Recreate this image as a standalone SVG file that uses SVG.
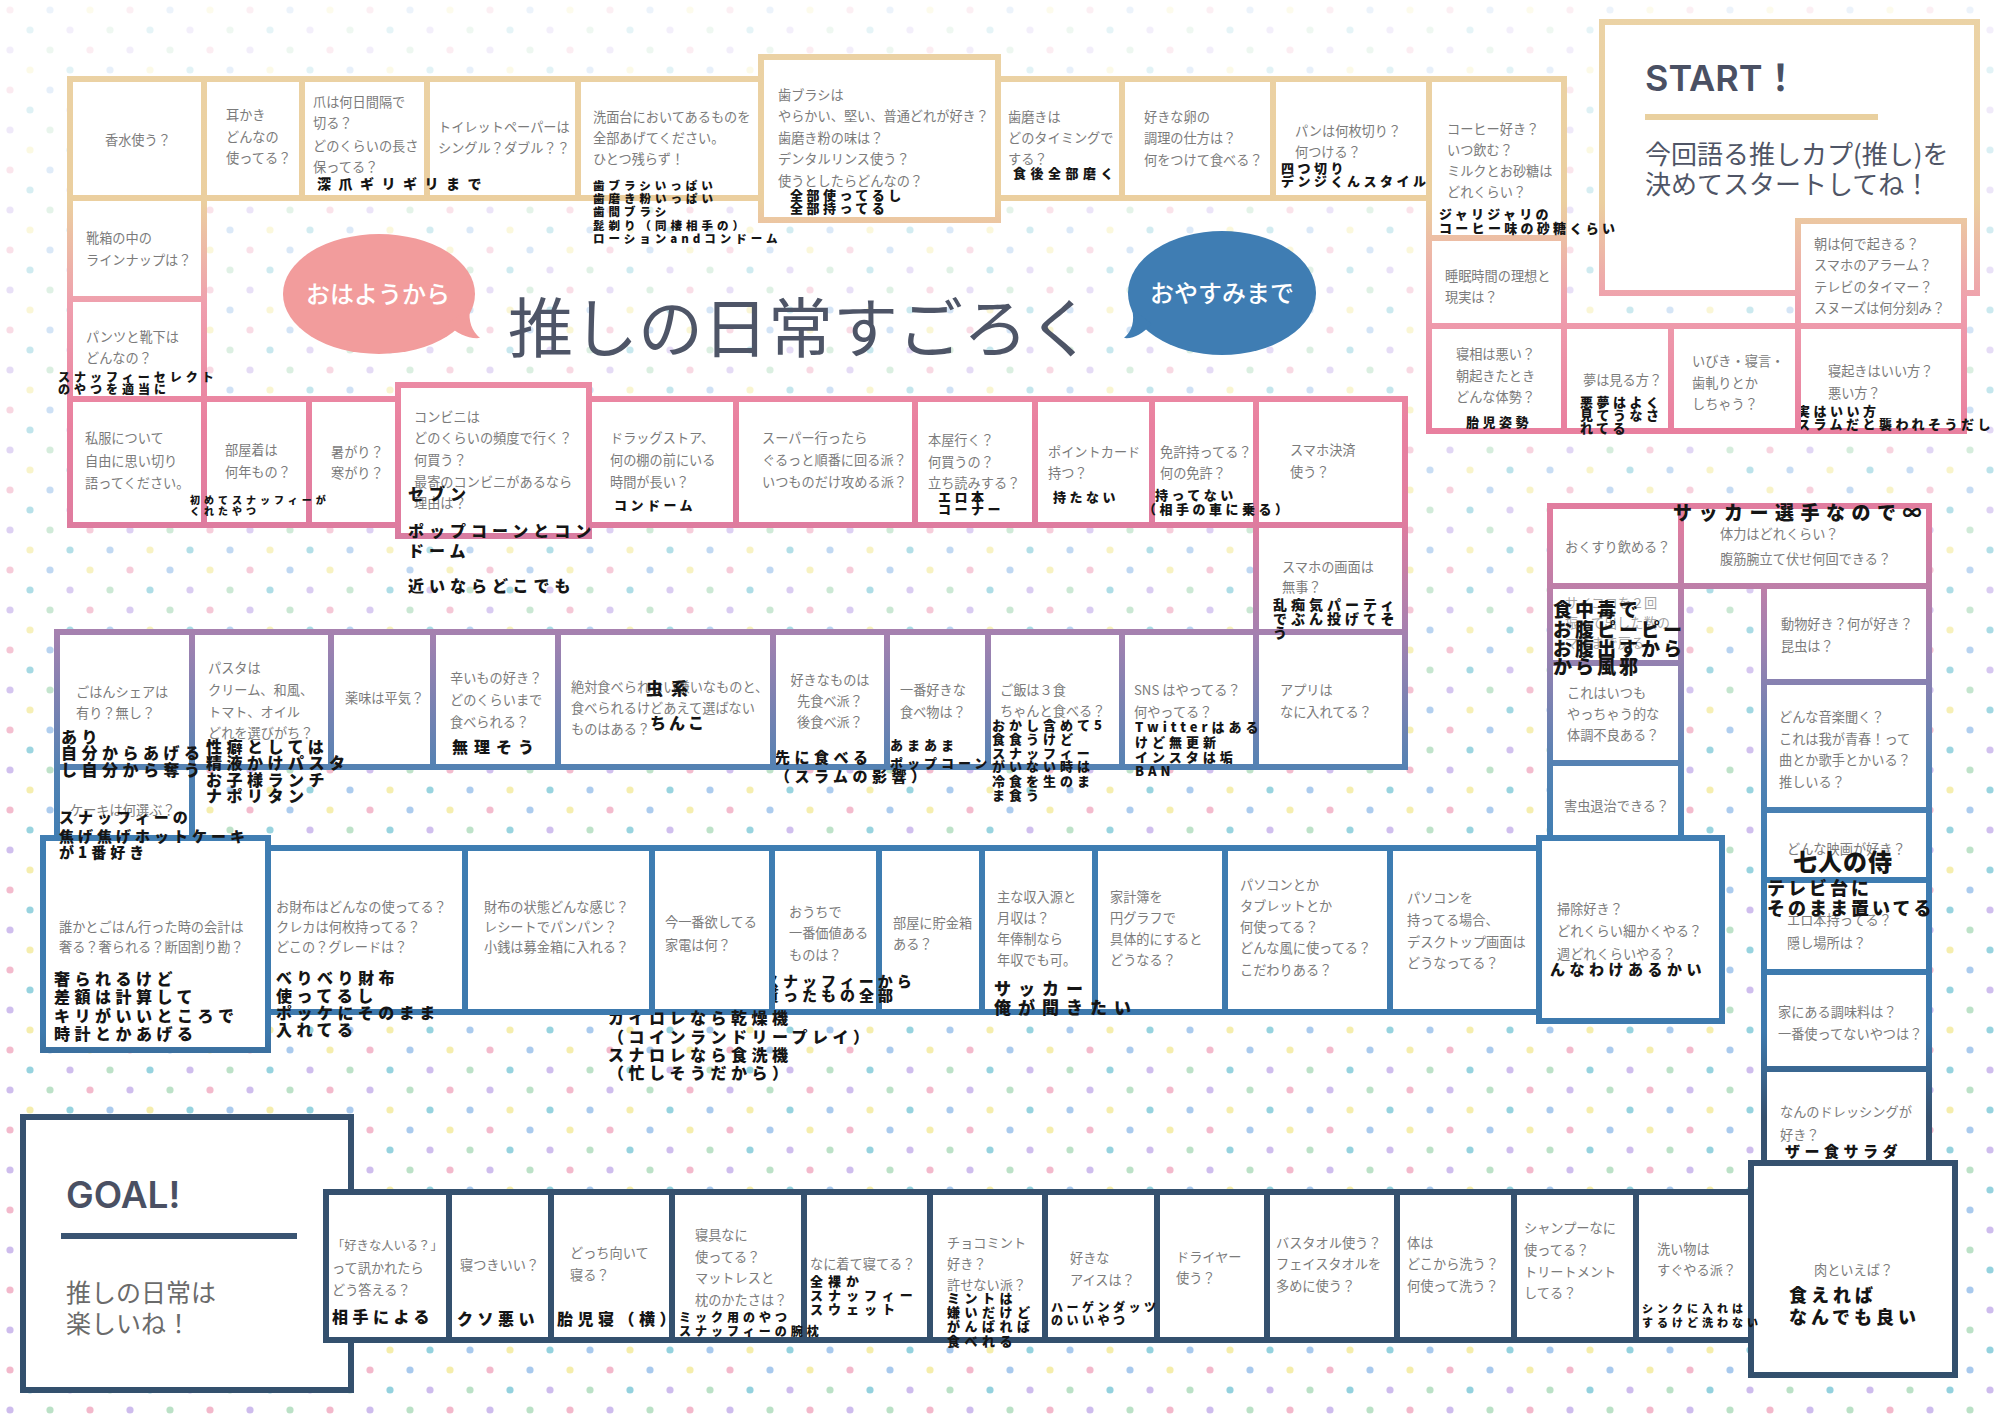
<svg xmlns="http://www.w3.org/2000/svg" width="2000" height="1414" viewBox="0 0 2000 1414">
<defs>
<linearGradient id="bd" gradientUnits="userSpaceOnUse" x1="0" y1="0" x2="0" y2="1414">
<stop offset="0" stop-color="#ebd3a6"/>
<stop offset="0.143" stop-color="#ebcf9f"/>
<stop offset="0.215" stop-color="#ef9fae"/>
<stop offset="0.30" stop-color="#e9809f"/>
<stop offset="0.37" stop-color="#df7c9f"/>
<stop offset="0.45" stop-color="#a381b0"/>
<stop offset="0.545" stop-color="#5282b3"/>
<stop offset="0.60" stop-color="#3e7db2"/>
<stop offset="0.73" stop-color="#3d79ad"/>
<stop offset="0.79" stop-color="#36516f"/>
<stop offset="1" stop-color="#33506d"/>
</linearGradient>
<linearGradient id="fade" x1="0" y1="0" x2="0" y2="1">
<stop offset="0" stop-color="#fff" stop-opacity="0.8"/>
<stop offset="0.3" stop-color="#fff" stop-opacity="0.45"/>
<stop offset="0.55" stop-color="#fff" stop-opacity="0.1"/>
<stop offset="1" stop-color="#fff" stop-opacity="0.05"/>
</linearGradient>
<pattern id="dots" width="120" height="80" patternUnits="userSpaceOnUse">
<circle cx="10" cy="10" r="3.6" fill="#f2b4c8"/>
<circle cx="50" cy="10" r="3.6" fill="#a3c6ec"/>
<circle cx="90" cy="10" r="3.6" fill="#f4eca6"/>
<circle cx="30" cy="30" r="3.6" fill="#8ecfdc"/>
<circle cx="70" cy="30" r="3.6" fill="#cbb8ec"/>
<circle cx="110" cy="30" r="3.6" fill="#b7dfc3"/>
<circle cx="10" cy="50" r="3.6" fill="#cbb8ec"/>
<circle cx="50" cy="50" r="3.6" fill="#b7dfc3"/>
<circle cx="90" cy="50" r="3.6" fill="#f2b4c8"/>
<circle cx="30" cy="70" r="3.6" fill="#f4eca6"/>
<circle cx="70" cy="70" r="3.6" fill="#8ecfdc"/>
<circle cx="110" cy="70" r="3.6" fill="#a3c6ec"/>
</pattern>
<style>
.box{fill:#fff;stroke:url(#bd);stroke-width:6}
.q{font-family:"Noto Sans CJK JP","Noto Sans",sans-serif;font-size:13.2px;fill:#7b7b7b}
.a{font-family:"Noto Sans CJK JP","Noto Sans",sans-serif;font-weight:900;fill:#151515}
.s10{font-size:10px;letter-spacing:4px}
.s11{font-size:11.5px;letter-spacing:4px}
.s12{font-size:12px;letter-spacing:4px}
.s13{font-size:13px;letter-spacing:3.5px}
.s15{font-size:15px;letter-spacing:4.5px}
.s16{font-size:16px;letter-spacing:4.5px}
.s17{font-size:17px;letter-spacing:7px}
.s19{font-size:19px;letter-spacing:3px}
.head{font-family:"Inter","Open Sans","Noto Sans CJK JP",sans-serif;font-weight:600;fill:#4a5063}
.sub{font-family:"Noto Sans CJK JP",sans-serif}
.bub{font-family:"Noto Sans CJK JP",sans-serif;font-size:24px;font-weight:500;fill:#fff;text-anchor:middle}
</style>
</defs>

<rect width="2000" height="1414" fill="#fff"/>
<rect width="2000" height="1414" fill="url(#dots)"/>
<rect width="2000" height="1414" fill="url(#fade)"/>

<g id="title">
<text x="508" y="352" font-family="Noto Sans CJK JP, sans-serif" font-size="65" fill="#4e5567">推しの日常すごろく</text>
</g>
<g id="bubble-ohayo">
<ellipse cx="379" cy="294" rx="96" ry="60" fill="#f29c9c"/>
<path d="M446,324 C458,334 468,339 480,338 C472,331 468,321 470,309 Z" fill="#f29c9c"/>
<text class="bub" x="378" y="303">おはようから</text>
</g>
<g id="bubble-oyasumi">
<ellipse cx="1222" cy="293" rx="94" ry="62" fill="#3f7db3"/>
<path d="M1152,324 C1142,334 1134,339 1124,338 C1132,331 1135,321 1132,309 Z" fill="#3f7db3"/>
<text class="bub" x="1222" y="302">おやすみまで</text>
</g>

<g id="connectors"></g>

<!-- GOAL and bottom row -->
<g id="goal">
<rect class="box" x="23" y="1117" width="328" height="273"/>
<text class="head" x="66" y="1208" font-size="37">GOAL!</text>
<line x1="61" y1="1236" x2="297" y2="1236" stroke="#3a5472" stroke-width="6"/>
<text class="sub" font-size="25" fill="#6b6b6b"><tspan x="66" y="1302">推しの日常は</tspan><tspan x="66" y="1333">楽しいね！</tspan></text>
</g>
<g id="n-niku">
<rect class="box" x="1751" y="1163" width="204" height="212"/>
<text class="q" x="1814" y="1275">肉といえば？</text>
<text class="a" font-size="18" letter-spacing="4"><tspan x="1789" y="1302">食えれば</tspan><tspan x="1789" y="1324">なんでも良い</tspan></text>
</g>
<g id="n-araimono">
<rect class="box" x="1636" y="1192" width="115" height="148"/>
<text class="q"><tspan x="1657" y="1254">洗い物は</tspan><tspan x="1657" y="1275">すぐやる派？</tspan></text>
<text class="a" font-size="11" letter-spacing="4"><tspan x="1642" y="1313">シンクに入れは</tspan><tspan x="1642" y="1327">するけど洗わない</tspan></text>
</g>
<g id="n-shampoo">
<rect class="box" x="1514" y="1192" width="122" height="148"/>
<text class="q"><tspan x="1524" y="1233">シャンプーなに</tspan><tspan x="1524" y="1255">使ってる？</tspan><tspan x="1524" y="1277">トリートメント</tspan><tspan x="1524" y="1298">してる？</tspan></text>
</g>
<g id="n-karada">
<rect class="box" x="1397" y="1192" width="117" height="148"/>
<text class="q"><tspan x="1407" y="1248">体は</tspan><tspan x="1407" y="1269">どこから洗う？</tspan><tspan x="1407" y="1291">何使って洗う？</tspan></text>
</g>
<g id="n-bathtowel">
<rect class="box" x="1267" y="1192" width="130" height="148"/>
<text class="q"><tspan x="1276" y="1248">バスタオル使う？</tspan><tspan x="1276" y="1269">フェイスタオルを</tspan><tspan x="1276" y="1291">多めに使う？</tspan></text>
</g>
<g id="n-dryer">
<rect class="box" x="1157" y="1192" width="110" height="148"/>
<text class="q"><tspan x="1176" y="1262">ドライヤー</tspan><tspan x="1176" y="1283">使う？</tspan></text>
</g>
<g id="n-ice">
<rect class="box" x="1045" y="1192" width="112" height="148"/>
<text class="q"><tspan x="1070" y="1263">好きな</tspan><tspan x="1070" y="1285">アイスは？</tspan></text>
<text class="a" font-size="12" letter-spacing="3.5"><tspan x="1051" y="1312">ハーゲンダッツ</tspan><tspan x="1051" y="1325">のいいやつ</tspan></text>
</g>
<g id="n-chocomint">
<rect class="box" x="930" y="1192" width="115" height="148"/>
<text class="q"><tspan x="947" y="1248">チョコミント</tspan><tspan x="947" y="1269">好き？</tspan><tspan x="947" y="1290">許せない派？</tspan></text>
<text class="a" font-size="13" letter-spacing="4.5"><tspan x="947" y="1303">ミントは</tspan><tspan x="947" y="1317">嫌いだけど</tspan><tspan x="947" y="1331">がんばれば</tspan><tspan x="947" y="1346">食べれる</tspan></text>
</g>
<g id="n-pajama">
<rect class="box" x="804" y="1192" width="126" height="148"/>
<text class="q" x="810" y="1269">なに着て寝てる？</text>
<text class="a" font-size="13" letter-spacing="5"><tspan x="810" y="1286">全裸か</tspan><tspan x="810" y="1300">スナッフィー</tspan><tspan x="810" y="1314">スウェット</tspan></text>
</g>
<g id="n-shingu">
<rect class="box" x="672" y="1192" width="132" height="148"/>
<text class="q"><tspan x="695" y="1240">寝具なに</tspan><tspan x="695" y="1262">使ってる？</tspan><tspan x="695" y="1283">マットレスと</tspan><tspan x="695" y="1305">枕のかたさは？</tspan></text>
<text class="a" font-size="12" letter-spacing="4"><tspan x="679" y="1322">ミック用のやつ</tspan><tspan x="679" y="1336">スナッフィーの腕枕</tspan></text>
</g>
<g id="n-docchi">
<rect class="box" x="551" y="1192" width="121" height="148"/>
<text class="q"><tspan x="570" y="1258">どっち向いて</tspan><tspan x="570" y="1280">寝る？</tspan></text>
<text class="a s16" x="557" y="1325">胎児寝（横）</text>
</g>
<g id="n-netsuki">
<rect class="box" x="449" y="1192" width="102" height="148"/>
<text class="q" x="460" y="1270">寝つきいい？</text>
<text class="a s16" x="457" y="1325">クソ悪い</text>
</g>
<g id="n-sukinahito">
<rect class="box" x="326" y="1192" width="123" height="148"/>
<text class="q"><tspan x="332" y="1250" font-size="12.3">「好きな人いる？」</tspan><tspan x="332" y="1273">って訊かれたら</tspan><tspan x="332" y="1295">どう答える？</tspan></text>
<text class="a s16" x="332" y="1323">相手による</text>
</g>

<!-- row 4 -->
<g id="n-souji">
<rect class="box" x="1539" y="838" width="183" height="183"/>
<text class="q"><tspan x="1557" y="914">掃除好き？</tspan><tspan x="1557" y="936">どれくらい細かくやる？</tspan><tspan x="1557" y="959">週どれくらいやる？</tspan></text>
<text class="a s15" x="1550" y="975">んなわけあるかい</text>
</g>
<g id="n-pc2">
<rect class="box" x="1390" y="848" width="149" height="164"/>
<text class="q"><tspan x="1407" y="903">パソコンを</tspan><tspan x="1407" y="925">持ってる場合、</tspan><tspan x="1407" y="947">デスクトップ画面は</tspan><tspan x="1407" y="968">どうなってる？</tspan></text>
</g>
<g id="n-pc1">
<rect class="box" x="1225" y="848" width="165" height="164"/>
<text class="q"><tspan x="1240" y="890">パソコンとか</tspan><tspan x="1240" y="911">タブレットとか</tspan><tspan x="1240" y="932">何使ってる？</tspan><tspan x="1240" y="953">どんな風に使ってる？</tspan><tspan x="1240" y="975">こだわりある？</tspan></text>
</g>
<g id="n-kakeibo">
<rect class="box" x="1095" y="848" width="130" height="164"/>
<text class="q"><tspan x="1110" y="902">家計簿を</tspan><tspan x="1110" y="923">円グラフで</tspan><tspan x="1110" y="944">具体的にすると</tspan><tspan x="1110" y="965">どうなる？</tspan></text>
</g>
<g id="n-shunyu">
<rect class="box" x="982" y="848" width="113" height="164"/>
<text class="q"><tspan x="997" y="902">主な収入源と</tspan><tspan x="997" y="923">月収は？</tspan><tspan x="997" y="944">年俸制なら</tspan><tspan x="997" y="965">年収でも可。</tspan></text>
<text class="a s17"><tspan x="994" y="995">サッカー</tspan><tspan x="994" y="1014">俺が聞きたい</tspan></text>
</g>
<g id="n-chokinbako">
<rect class="box" x="879" y="848" width="103" height="164"/>
<text class="q"><tspan x="893" y="928">部屋に貯金箱</tspan><tspan x="893" y="949">ある？</tspan></text>
</g>
<g id="n-kachi">
<rect class="box" x="772" y="848" width="107" height="164"/>
<text class="q"><tspan x="789" y="917">おうちで</tspan><tspan x="789" y="938">一番価値ある</tspan><tspan x="789" y="960">ものは？</tspan></text>
<text class="a" font-size="15" letter-spacing="4"><tspan x="764" y="987">スナッフィーから</tspan><tspan x="764" y="1001">貰ったもの全部</tspan></text>
</g>
<g id="n-kaden">
<rect class="box" x="652" y="848" width="120" height="164"/>
<text class="q"><tspan x="665" y="927">今一番欲してる</tspan><tspan x="665" y="950">家電は何？</tspan></text>
<text class="a s16"><tspan x="608" y="1024">カイロレなら乾燥機</tspan><tspan x="608" y="1043">（コインランドリープレイ）</tspan><tspan x="608" y="1061">スナロレなら食洗機</tspan><tspan x="608" y="1079">（忙しそうだから）</tspan></text>
</g>
<g id="n-saifu2">
<rect class="box" x="465" y="848" width="187" height="164"/>
<text class="q"><tspan x="484" y="912">財布の状態どんな感じ？</tspan><tspan x="484" y="932">レシートでパンパン？</tspan><tspan x="484" y="952">小銭は募金箱に入れる？</tspan></text>
</g>
<g id="n-saifu1">
<rect class="box" x="268" y="848" width="197" height="164"/>
<text class="q"><tspan x="276" y="912">お財布はどんなの使ってる？</tspan><tspan x="276" y="932">クレカは何枚持ってる？</tspan><tspan x="276" y="952">どこの？グレードは？</tspan></text>
<text class="a s16"><tspan x="276" y="984">べりべり財布</tspan><tspan x="276" y="1002">使ってるし</tspan><tspan x="276" y="1019">ポッケにそのまま</tspan><tspan x="276" y="1036">入れてる</tspan></text>
</g>
<g id="n-kaikei">
<rect class="box" x="43" y="838" width="225" height="212"/>
<text class="q"><tspan x="59" y="932">誰かとごはん行った時の会計は</tspan><tspan x="59" y="952">奢る？奢られる？断固割り勘？</tspan></text>
<text class="a s16"><tspan x="54" y="985">奢られるけど</tspan><tspan x="54" y="1003">差額は計算して</tspan><tspan x="54" y="1022">キリがいいところで</tspan><tspan x="54" y="1040">時計とかあげる</tspan></text>
</g>

<!-- right column -->
<g id="n-dressing">
<rect class="box" x="1764" y="1069" width="165" height="94"/>
<text class="q"><tspan x="1780" y="1117">なんのドレッシングが</tspan><tspan x="1780" y="1140">好き？</tspan></text>
<text class="a s15" x="1785" y="1157">ザー食サラダ</text>
</g>
<g id="n-chomiryo">
<rect class="box" x="1764" y="972" width="165" height="97"/>
<text class="q"><tspan x="1778" y="1017">家にある調味料は？</tspan><tspan x="1778" y="1039">一番使ってないやつは？</tspan></text>
</g>
<g id="n-erohon">
<rect class="box" x="1764" y="880" width="165" height="92"/>
<text class="q"><tspan x="1787" y="925">エロ本持ってる？</tspan><tspan x="1787" y="948">隠し場所は？</tspan></text>
</g>
<g id="n-eiga">
<rect class="box" x="1764" y="810" width="165" height="70"/>
<text class="q" x="1787" y="854">どんな映画が好き？</text>
<text class="a" font-size="24" letter-spacing="1" x="1793" y="871">七人の侍</text>
</g>
<g id="n-erohon-a">
<text class="a" font-size="18" letter-spacing="3"><tspan x="1767" y="895">テレビ台に</tspan><tspan x="1767" y="915">そのまま置いてる</tspan></text>
</g>
<g id="n-ongaku">
<rect class="box" x="1764" y="682" width="165" height="128"/>
<text class="q"><tspan x="1779" y="722">どんな音楽聞く？</tspan><tspan x="1779" y="744">これは我が青春！って</tspan><tspan x="1779" y="765">曲とか歌手とかいる？</tspan><tspan x="1779" y="787">推しいる？</tspan></text>
</g>
<g id="n-dobutsu">
<rect class="box" x="1764" y="586" width="165" height="96"/>
<text class="q"><tspan x="1781" y="629">動物好き？何が好き？</tspan><tspan x="1781" y="651">昆虫は？</tspan></text>
</g>
<g id="n-gaichu">
<rect class="box" x="1550" y="763" width="131" height="75"/>
<text class="q" x="1564" y="811">害虫退治できる？</text>
</g>
<g id="n-taicho">
<rect class="box" x="1550" y="663" width="131" height="100"/>
<text class="q"><tspan x="1567" y="698">これはいつも</tspan><tspan x="1567" y="719">やっちゃう的な</tspan><tspan x="1567" y="740">体調不良ある？</tspan></text>
</g>
<g id="n-saikoro">
<rect class="box" x="1550" y="586" width="131" height="77"/>
<text class="q" fill-opacity="0.7"><tspan x="1565" y="608">サイコロを２回</tspan><tspan x="1565" y="628">振って出した数の</tspan><tspan x="1565" y="648">マスまで戻る</tspan></text>
<text class="a s19"><tspan x="1553" y="617">食中毒で</tspan><tspan x="1553" y="637">お腹ピーピー</tspan><tspan x="1553" y="656">お腹出すから</tspan><tspan x="1553" y="674">から風邪</tspan></text>
</g>
<g id="n-kusuri">
<rect class="box" x="1550" y="506" width="131" height="80"/>
<text class="q" x="1565" y="552">おくすり飲める？</text>
</g>
<g id="n-tairyoku">
<rect class="box" x="1681" y="506" width="248" height="80"/>
<text class="q"><tspan x="1720" y="539">体力はどれくらい？</tspan><tspan x="1720" y="564">腹筋腕立て伏せ何回できる？</tspan></text>
<text class="a" font-size="19" letter-spacing="6.5" x="1673" y="520">サッカー選手なので∞</text>
</g>

<!-- row 3 -->
<g id="n-cake">
<rect class="box" x="57" y="767" width="135" height="71"/>
<text class="q" x="70" y="815">ケーキは何選ぶ？</text>
<text class="a" font-size="15" letter-spacing="4"><tspan x="59" y="823">スナッフィーの</tspan><tspan x="59" y="842">焦げ焦げホットケーキ</tspan><tspan x="59" y="858">が1番好き</tspan></text>
</g>
<g id="n-app">
<rect class="box" x="1256" y="632" width="149" height="135"/>
<text class="q"><tspan x="1280" y="695">アプリは</tspan><tspan x="1280" y="717">なに入れてる？</tspan></text>
</g>
<g id="n-sns">
<rect class="box" x="1122" y="632" width="134" height="135"/>
<text class="q"><tspan x="1134" y="695">SNS はやってる？</tspan><tspan x="1134" y="717">何やってる？</tspan></text>
<text class="a" font-size="13" letter-spacing="4"><tspan x="1135" y="732">Twitterはある</tspan><tspan x="1135" y="747">けど無更新</tspan><tspan x="1135" y="762">インスタは垢</tspan><tspan x="1135" y="776">BAN</tspan></text>
</g>
<g id="n-gohan3">
<rect class="box" x="988" y="632" width="134" height="135"/>
<text class="q"><tspan x="1000" y="695">ご飯は３食</tspan><tspan x="1000" y="716">ちゃんと食べる？</tspan></text>
<text class="a" font-size="13" letter-spacing="4"><tspan x="992" y="730">おかし含めて5</tspan><tspan x="992" y="744">食食うけど</tspan><tspan x="992" y="758">スナッフィー</tspan><tspan x="992" y="771">がいない時は</tspan><tspan x="992" y="786">冷食を生のま</tspan><tspan x="992" y="800">ま食う</tspan></text>
</g>
<g id="n-ichiban">
<rect class="box" x="887" y="632" width="101" height="135"/>
<text class="q"><tspan x="900" y="695">一番好きな</tspan><tspan x="900" y="717">食べ物は？</tspan></text>
<text class="a" font-size="13" letter-spacing="4"><tspan x="890" y="750">あまあま</tspan><tspan x="890" y="768">ポップコーン</tspan></text>
</g>
<g id="n-sakitabe">
<rect class="box" x="773" y="632" width="114" height="135"/>
<text class="q" text-anchor="middle"><tspan x="830" y="685">好きなものは</tspan><tspan x="830" y="706">先食べ派？</tspan><tspan x="830" y="727">後食べ派？</tspan></text>
<text class="a s15"><tspan x="775" y="763">先に食べる</tspan><tspan x="775" y="782">（スラムの影響）</tspan></text>
</g>
<g id="n-kirai">
<rect class="box" x="558" y="632" width="215" height="135"/>
<text class="q"><tspan x="571" y="692">絶対食べられない嫌いなものと、</tspan><tspan x="571" y="713">食べられるけどあえて選ばない</tspan><tspan x="571" y="734">ものはある？</tspan></text>
<text class="a" font-size="17" letter-spacing="8" x="646" y="695">虫系</text>
<text class="a" font-size="16" letter-spacing="3" x="650" y="729">ちんこ</text>
</g>
<g id="n-karai">
<rect class="box" x="433" y="632" width="125" height="135"/>
<text class="q"><tspan x="450" y="683">辛いもの好き？</tspan><tspan x="450" y="705">どのくらいまで</tspan><tspan x="450" y="727">食べられる？</tspan></text>
<text class="a" font-size="16" letter-spacing="6" x="452" y="753">無理そう</text>
</g>
<g id="n-yakumi">
<rect class="box" x="331" y="632" width="102" height="135"/>
<text class="q" x="345" y="703">薬味は平気？</text>
</g>
<g id="n-pasta">
<rect class="box" x="192" y="632" width="139" height="135"/>
<text class="q"><tspan x="208" y="673">パスタは</tspan><tspan x="208" y="695">クリーム、和風、</tspan><tspan x="208" y="717">トマト、オイル</tspan><tspan x="208" y="738">どれを選びがち？</tspan></text>
<text class="a s16"><tspan x="206" y="753">性癖としては</tspan><tspan x="206" y="769">精液かけパスタ</tspan><tspan x="206" y="786">お子様ランチ</tspan><tspan x="206" y="802">ナポリタン</tspan></text>
</g>
<g id="n-share">
<rect class="box" x="57" y="632" width="135" height="135"/>
<text class="q"><tspan x="76" y="697">ごはんシェアは</tspan><tspan x="76" y="718">有り？無し？</tspan></text>
<text class="a s16"><tspan x="61" y="743">あり</tspan><tspan x="61" y="759">自分からあげる</tspan><tspan x="61" y="776">し自分から奪う</tspan></text>
</g>

<!-- row 2 -->
<g id="n-gamen">
<rect class="box" x="1256" y="525" width="149" height="107"/>
<text class="q"><tspan x="1282" y="572">スマホの画面は</tspan><tspan x="1282" y="592">無事？</tspan></text>
<text class="a" font-size="14" letter-spacing="4"><tspan x="1273" y="610">乱痴気パーティ</tspan><tspan x="1273" y="624">でぶん投げてそ</tspan><tspan x="1273" y="638">う</tspan></text>
</g>
<g id="n-kessai">
<rect class="box" x="1256" y="399" width="149" height="126"/>
<text class="q"><tspan x="1290" y="455">スマホ決済</tspan><tspan x="1290" y="477">使う？</tspan></text>
</g>
<g id="n-point">
<rect class="box" x="1035" y="399" width="117" height="126"/>
<text class="q"><tspan x="1048" y="457">ポイントカード</tspan><tspan x="1048" y="478">持つ？</tspan></text>
<text class="a s13" x="1053" y="502">持たない</text>
</g>
<g id="n-menkyo">
<rect class="box" x="1152" y="399" width="104" height="126"/>
<text class="q"><tspan x="1160" y="457">免許持ってる？</tspan><tspan x="1160" y="478">何の免許？</tspan></text>
<text class="a s13"><tspan x="1155" y="500">持ってない</tspan><tspan x="1143" y="514">（相手の車に乗る）</tspan></text>
</g>
<g id="n-honya">
<rect class="box" x="915" y="399" width="120" height="126"/>
<text class="q"><tspan x="928" y="445">本屋行く？</tspan><tspan x="928" y="467">何買うの？</tspan><tspan x="928" y="488">立ち読みする？</tspan></text>
<text class="a s13"><tspan x="938" y="502">エロ本</tspan><tspan x="938" y="514">コーナー</tspan></text>
</g>
<g id="n-super">
<rect class="box" x="736" y="399" width="179" height="126"/>
<text class="q"><tspan x="762" y="443">スーパー行ったら</tspan><tspan x="762" y="465">ぐるっと順番に回る派？</tspan><tspan x="762" y="487">いつものだけ攻める派？</tspan></text>
</g>
<g id="n-drug">
<rect class="box" x="589" y="399" width="147" height="126"/>
<text class="q"><tspan x="610" y="443">ドラッグストア、</tspan><tspan x="610" y="465">何の棚の前にいる</tspan><tspan x="610" y="487">時間が長い？</tspan></text>
<text class="a s13" x="614" y="510">コンドーム</text>
</g>
<g id="n-konbini">
<rect class="box" x="398" y="385" width="191" height="151"/>
<text class="q"><tspan x="414" y="422">コンビニは</tspan><tspan x="414" y="443">どのくらいの頻度で行く？</tspan><tspan x="414" y="465">何買う？</tspan><tspan x="414" y="487">最寄のコンビニがあるなら</tspan><tspan x="414" y="508">理由は？</tspan></text>
<text class="a" font-size="16" letter-spacing="5"><tspan x="408" y="500">セブン</tspan><tspan x="408" y="537">ポップコーンとコン</tspan><tspan x="408" y="557">ドーム</tspan><tspan x="408" y="592">近いならどこでも</tspan></text>
</g>
<g id="n-atsugari">
<rect class="box" x="309" y="399" width="89" height="126"/>
<text class="q"><tspan x="331" y="457">暑がり？</tspan><tspan x="331" y="478">寒がり？</tspan></text>
</g>
<g id="n-shifuku">
<rect class="box" x="70" y="399" width="134" height="126"/>
<text class="q"><tspan x="85" y="443">私服について</tspan><tspan x="85" y="466">自由に思い切り</tspan><tspan x="85" y="488">語ってください。</tspan></text>
</g>
<g id="n-heyagi">
<rect class="box" x="204" y="399" width="105" height="126"/>
<text class="q"><tspan x="225" y="455">部屋着は</tspan><tspan x="225" y="477">何年もの？</tspan></text>
<text class="a s10"><tspan x="190" y="504">初めてスナッフィーが</tspan><tspan x="190" y="515">くれたやつ</tspan></text>
</g>

<!-- left column -->
<g id="n-pantsu">
<rect class="box" x="70" y="299" width="134" height="100"/>
<text class="q"><tspan x="86" y="342">パンツと靴下は</tspan><tspan x="86" y="363">どんなの？</tspan></text>
<text class="a s12"><tspan x="58" y="382">スナッフィーセレクト</tspan><tspan x="58" y="394">のやつを適当に</tspan></text>
</g>
<g id="n-kutsubako">
<rect class="box" x="70" y="198" width="134" height="101"/>
<text class="q"><tspan x="86" y="243">靴箱の中の</tspan><tspan x="86" y="265">ラインナップは？</tspan></text>
</g>

<!-- top right -->
<g id="start">
<rect class="box" x="1602" y="22" width="375" height="271"/>
<text class="head" x="1645" y="91" font-size="36">START！</text>
<line x1="1645" y1="117" x2="1878" y2="117" stroke="#e9d09f" stroke-width="6"/>
<text class="sub" font-size="26" fill="#4f5566"><tspan x="1645" y="164">今回語る推しカプ(推し)を</tspan><tspan x="1645" y="194">決めてスタートしてね！</tspan></text>
</g>
<g id="n-asa">
<rect class="box" x="1798" y="221" width="166" height="105"/>
<text class="q"><tspan x="1814" y="249">朝は何で起きる？</tspan><tspan x="1814" y="270">スマホのアラーム？</tspan><tspan x="1814" y="292">テレビのタイマー？</tspan><tspan x="1814" y="313">スヌーズは何分刻み？</tspan></text>
</g>
<g id="n-neoki">
<rect class="box" x="1798" y="326" width="166" height="105"/>
<text class="q"><tspan x="1828" y="376">寝起きはいい方？</tspan><tspan x="1828" y="398">悪い方？</tspan></text>
<text class="a s13"><tspan x="1797" y="416">実はいい方</tspan><tspan x="1797" y="429">スラムだと襲われそうだし</tspan></text>
</g>
<g id="n-ibiki">
<rect class="box" x="1671" y="326" width="127" height="105"/>
<text class="q"><tspan x="1692" y="366">いびき・寝言・</tspan><tspan x="1692" y="388">歯軋りとか</tspan><tspan x="1692" y="409">しちゃう？</tspan></text>
</g>
<g id="n-yume">
<rect class="box" x="1564" y="326" width="107" height="105"/>
<text class="q" x="1583" y="385">夢は見る方？</text>
<text class="a s13"><tspan x="1580" y="407">悪夢はよく</tspan><tspan x="1580" y="420">見てうなさ</tspan><tspan x="1580" y="433">れてる</tspan></text>
</g>
<g id="n-nezou">
<rect class="box" x="1429" y="326" width="135" height="105"/>
<text class="q"><tspan x="1456" y="359">寝相は悪い？</tspan><tspan x="1456" y="381">朝起きたとき</tspan><tspan x="1456" y="402">どんな体勢？</tspan></text>
<text class="a s13" x="1466" y="427">胎児姿勢</text>
</g>
<g id="n-suimin">
<rect class="box" x="1429" y="238" width="135" height="88"/>
<text class="q"><tspan x="1445" y="281">睡眠時間の理想と</tspan><tspan x="1445" y="302">現実は？</tspan></text>
</g>

<!-- top row -->
<g id="n-coffee">
<rect class="box" x="1429" y="79" width="135" height="159"/>
<text class="q"><tspan x="1447" y="134">コーヒー好き？</tspan><tspan x="1447" y="155">いつ飲む？</tspan><tspan x="1447" y="176">ミルクとお砂糖は</tspan><tspan x="1447" y="197">どれくらい？</tspan></text>
<text class="a" font-size="13" letter-spacing="3.3"><tspan x="1439" y="219">ジャリジャリの</tspan><tspan x="1439" y="233">コーヒー味の砂糖くらい</tspan></text>
</g>
<g id="n-pan">
<rect class="box" x="1273" y="79" width="156" height="119"/>
<text class="q"><tspan x="1295" y="136">パンは何枚切り？</tspan><tspan x="1295" y="157">何つける？</tspan></text>
<text class="a s13"><tspan x="1281" y="173">四つ切り</tspan><tspan x="1281" y="186">デンジくんスタイル</tspan></text>
</g>
<g id="n-tamago">
<rect class="box" x="1122" y="79" width="151" height="119"/>
<text class="q"><tspan x="1144" y="122">好きな卵の</tspan><tspan x="1144" y="143">調理の仕方は？</tspan><tspan x="1144" y="165">何をつけて食べる？</tspan></text>
</g>
<g id="n-hamigaki">
<rect class="box" x="998" y="79" width="124" height="119"/>
<text class="q"><tspan x="1008" y="122">歯磨きは</tspan><tspan x="1008" y="143">どのタイミングで</tspan><tspan x="1008" y="164">する？</tspan></text>
<text class="a" font-size="13" letter-spacing="4.5" x="1013" y="178">食後全部磨く</text>
</g>
<g id="n-haburashi">
<rect class="box" x="761" y="57" width="237" height="163"/>
<text class="q"><tspan x="778" y="100">歯ブラシは</tspan><tspan x="778" y="121">やらかい、堅い、普通どれが好き？</tspan><tspan x="778" y="143">歯磨き粉の味は？</tspan><tspan x="778" y="164">デンタルリンス使う？</tspan><tspan x="778" y="186">使うとしたらどんなの？</tspan></text>
<text class="a s13"><tspan x="790" y="200">全部使ってるし</tspan><tspan x="790" y="213">全部持ってる</tspan></text>
</g>
<g id="n-senmendai">
<rect class="box" x="578" y="79" width="183" height="119"/>
<text class="q"><tspan x="593" y="122">洗面台においてあるものを</tspan><tspan x="593" y="143">全部あげてください。</tspan><tspan x="593" y="164">ひとつ残らず！</tspan></text>
<text class="a s11"><tspan x="593" y="190">歯ブラシいっぱい</tspan><tspan x="593" y="203">歯磨き粉いっぱい</tspan><tspan x="593" y="216">歯間ブラシ</tspan><tspan x="593" y="230">髭剃り（同棲相手の）</tspan><tspan x="593" y="243">ローションandコンドーム</tspan></text>
</g>
<g id="n-toilet">
<rect class="box" x="427" y="79" width="151" height="119"/>
<text class="q"><tspan x="438" y="132">トイレットペーパーは</tspan><tspan x="438" y="153">シングル？ダブル？？</tspan></text>
</g>
<g id="n-tsume">
<rect class="box" x="302" y="79" width="125" height="119"/>
<text class="q"><tspan x="313" y="107">爪は何日間隔で</tspan><tspan x="313" y="128">切る？</tspan><tspan x="313" y="151">どのくらいの長さ</tspan><tspan x="313" y="172">保ってる？</tspan></text>
<text class="a" font-size="14" letter-spacing="7.5" x="317" y="189">深爪ギリギリまで</text>
</g>
<g id="n-mimikaki">
<rect class="box" x="204" y="79" width="98" height="119"/>
<text class="q"><tspan x="226" y="120">耳かき</tspan><tspan x="226" y="142">どんなの</tspan><tspan x="226" y="163">使ってる？</tspan></text>
</g>
<g id="n-kosui">
<rect class="box" x="70" y="79" width="134" height="119"/>
<text class="q" x="105" y="145">香水使う？</text>
</g>
</svg>
